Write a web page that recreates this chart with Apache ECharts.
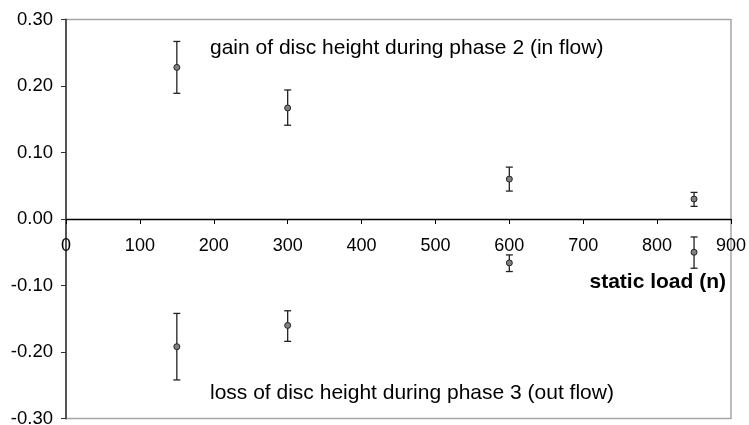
<!DOCTYPE html>
<html>
<head>
<meta charset="utf-8">
<script src="https://cdn.jsdelivr.net/npm/echarts@6/dist/echarts.min.js"></script>
<style>
  html, body { margin: 0; padding: 0; background: #fff; }
  #chart { width: 749px; height: 425px; }
</style>
</head>
<body>
<div id="chart"></div>
<script>
// static load (n)
const loads = [150, 300, 600, 850]

// phase 2 gain: mean, low, high
const gainMean = [0.228, 0.167, 0.060, 0.030]
const gainLow = [0.189, 0.141, 0.042, 0.019]
const gainHigh = [0.267, 0.194, 0.078, 0.040]

// phase 3 loss: mean, low, high
const lossMean = [-0.192, -0.160, -0.066, -0.050]
const lossLow = [-0.242, -0.184, -0.079, -0.074]
const lossHigh = [-0.142, -0.138, -0.054, -0.027]

const yTicks = [-0.3, -0.2, -0.1, 0, 0.1, 0.2, 0.3]

const font = 'Liberation Sans, Arial, sans-serif'

const points = (mean) => loads.map((x, i) => [x, mean[i]])
const bars = (low, high) => loads.map((x, i) => [x, low[i], high[i]])

const renderBar = (params, api) => {
  const x = api.value(0)
  const lo = api.coord([x, api.value(1)])
  const hi = api.coord([x, api.value(2)])
  const cap = 3.5
  const style = { stroke: '#222', lineWidth: 1.3 }
  return {
    type: 'group',
    children: [
      { type: 'line', shape: { x1: lo[0], y1: lo[1], x2: hi[0], y2: hi[1] }, style },
      { type: 'line', shape: { x1: lo[0] - cap, y1: lo[1], x2: lo[0] + cap, y2: lo[1] }, style },
      { type: 'line', shape: { x1: hi[0] - cap, y1: hi[1], x2: hi[0] + cap, y2: hi[1] }, style }
    ]
  }
}

const chart = echarts.init(document.getElementById('chart'), null, { renderer: 'canvas' })

chart.setOption({
  animation: false,
  grid: {
    left: 66,
    right: 18,
    top: 19.5,
    bottom: 6.5,
    containLabel: false,
    outerBoundsMode: 'none',
    show: true,
    borderColor: '#a6a6a6',
    borderWidth: 1.5
  },
  xAxis: {
    type: 'value',
    min: 0,
    max: 900,
    interval: 100,
    position: 'bottom',
    offset: -199.5,
    axisLine: { onZero: false, lineStyle: { color: '#000', width: 1.3 } },
    axisTick: { show: true, length: 5, lineStyle: { color: '#000' } },
    axisLabel: { color: '#000', fontSize: 18, fontFamily: font, margin: 18 },
    splitLine: { show: false }
  },
  yAxis: {
    type: 'value',
    min: -0.3,
    max: 0.3,
    interval: 0.1,
    axisLine: { show: true, onZero: false, lineStyle: { color: '#555', width: 2 } },
    axisTick: { show: true, length: 5, lineStyle: { color: '#333' } },
    axisLabel: {
      color: '#000',
      fontSize: 18.5,
      fontFamily: font,
      margin: 13,
      formatter: (v) => yTicks.some(t => Math.abs(t - v) < 1e-9) ? v.toFixed(2) : ''
    },
    splitLine: { show: false }
  },
  graphic: [
    {
      type: 'text', x: 210, y: 48,
      style: { text: 'gain of disc height during phase 2 (in flow)', font: '21px ' + font, fill: '#000', verticalAlign: 'middle' }
    },
    {
      type: 'text', x: 210, y: 393,
      style: { text: 'loss of disc height during phase 3 (out flow)', font: '21px ' + font, fill: '#000', verticalAlign: 'middle' }
    },
    {
      type: 'text', x: 726, y: 282,
      style: { text: 'static load (n)', font: 'bold 21px ' + font, fill: '#000', align: 'right', verticalAlign: 'middle' }
    }
  ],
  series: [
    { type: 'custom', renderItem: renderBar, data: bars(gainLow, gainHigh), z: 2 },
    { type: 'custom', renderItem: renderBar, data: bars(lossLow, lossHigh), z: 2 },
    {
      type: 'scatter', data: points(gainMean), symbolSize: 6, z: 3,
      itemStyle: { color: '#808080', borderColor: '#222', borderWidth: 1, opacity: 1 }
    },
    {
      type: 'scatter', data: points(lossMean), symbolSize: 6, z: 3,
      itemStyle: { color: '#808080', borderColor: '#222', borderWidth: 1, opacity: 1 }
    }
  ]
})
</script>
</body>
</html>
